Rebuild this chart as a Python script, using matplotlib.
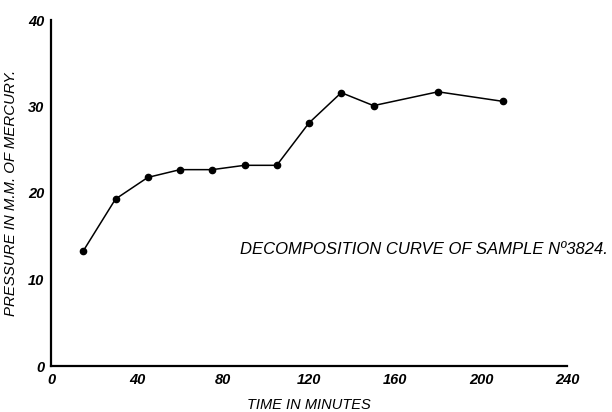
import matplotlib
matplotlib.use("Agg")
import matplotlib.pyplot as plt

# readings
time_min = [15, 30, 45, 60, 75, 90, 105, 120, 135, 150, 180, 210]
pressure = [13.3, 19.3, 21.8, 22.7, 22.7, 23.2, 23.2, 28.1, 31.6, 30.1, 31.7, 30.6]

x_ticks = [0, 40, 80, 120, 160, 200, 240]
y_ticks = [0, 10, 20, 30, 40]

FONT = ["Liberation Sans", "DejaVu Sans"]

fig = plt.figure(figsize=(6.12, 4.12), dpi=100)
ax = fig.add_axes([51 / 612, 46 / 412, 516 / 612, 346 / 412])

ax.plot(time_min, pressure, color="black", lw=1.1, marker="o", ms=4.5,
        mfc="black", mec="black")

ax.set_xlim(0, 240)
ax.set_ylim(0, 40)
ax.set_xticks(x_ticks)
ax.set_yticks(y_ticks)
ax.set_xticklabels([str(v) for v in x_ticks], family=FONT, style="italic",
                   weight="bold", fontsize=10.5)
ax.set_yticklabels([str(v) for v in y_ticks], family=FONT, style="italic",
                   weight="bold", fontsize=10.5)
ax.tick_params(length=0, pad=5)

for s in ["top", "right"]:
    ax.spines[s].set_visible(False)
for s in ["left", "bottom"]:
    ax.spines[s].set_linewidth(1.6)

ax.set_xlabel("TIME IN MINUTES", family=FONT, style="italic", fontsize=10.5)
ax.xaxis.set_label_coords(0.5, -0.093)
ax.set_ylabel("PRESSURE IN M.M. OF MERCURY.", family=FONT, style="italic",
              fontsize=10.8)
ax.yaxis.set_label_coords(-0.064, 0.5)

ax.text(240 / 612, 1 - 250 / 412, "DECOMPOSITION CURVE OF SAMPLE N\u00ba3824.",
        transform=fig.transFigure, family=FONT, style="italic", fontsize=12,
        ha="left", va="center")

fig.savefig("out.png", dpi=100)
